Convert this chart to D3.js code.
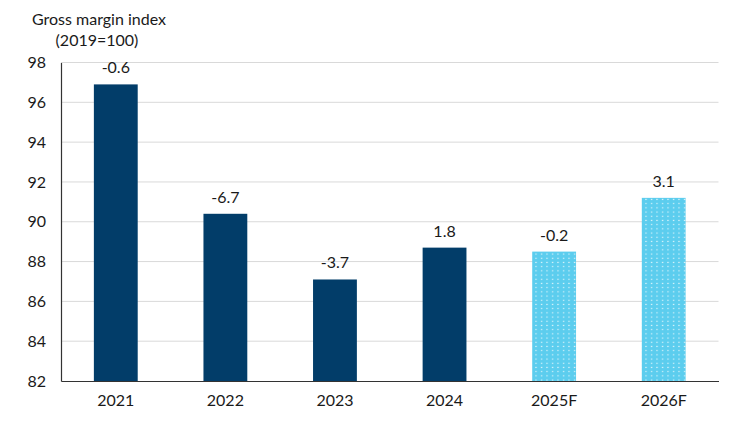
<!DOCTYPE html>
<html>
<head>
<meta charset="utf-8">
<script src="https://cdn.jsdelivr.net/npm/d3@7"></script>
<style>
  body { margin: 0; background: #fff; }
  text { font-family: Lato, "Open Sans", sans-serif; fill: #1a1a1a; }
</style>
</head>
<body>
<div id="chart"></div>
<script>
// Chart data
const years = ['2021', '2022', '2023', '2024', '2025F', '2026F'];
const indexValues = [96.9, 90.4, 87.1, 88.7, 88.5, 91.2];
const changeLabels = ['-0.6', '-6.7', '-3.7', '1.8', '-0.2', '3.1'];
const isForecast = [false, false, false, false, true, true];
const yTicks = [82, 84, 86, 88, 90, 92, 94, 96, 98];

const w = 750;
const h = 422;
const plotLeft = 61, plotRight = 718.5, plotTop = 62.5, plotBottom = 381;
const fontSize = 16;

const svg = d3.select('#chart')
  .append('svg')
  .attr('width', w)
  .attr('height', h);

// dotted fill for forecast bars
const pat = svg.append('defs')
  .append('pattern')
  .attr('id', 'dots')
  .attr('patternUnits', 'userSpaceOnUse')
  .attr('width', 5.5)
  .attr('height', 4.2);
pat.append('rect').attr('width', 5.5).attr('height', 4.2).attr('fill', '#5ccdee');
pat.append('rect').attr('x', 2).attr('y', 1.5).attr('width', 1.1).attr('height', 1.1).attr('fill', '#ffffff');

// Scales
const xScale = d3.scaleBand()
  .domain(years)
  .range([plotLeft, plotRight])
  .paddingInner(0.6)
  .paddingOuter(0.3);

const yScale = d3.scaleLinear()
  .domain([82, 98])
  .range([plotBottom, plotTop]);

// Gridlines
svg.append('g')
  .selectAll('line')
  .data(yTicks.filter(d => d > 82))
  .enter()
  .append('line')
  .attr('x1', plotLeft)
  .attr('x2', plotRight)
  .attr('y1', d => yScale(d))
  .attr('y2', d => yScale(d))
  .attr('stroke', '#d9d9d9')
  .attr('stroke-width', 1);

// Bars
svg.selectAll('.bar')
  .data(indexValues)
  .enter()
  .append('rect')
  .attr('class', 'bar')
  .attr('x', (d, i) => xScale(years[i]))
  .attr('y', d => yScale(d))
  .attr('width', xScale.bandwidth())
  .attr('height', d => yScale(82) - yScale(d))
  .attr('fill', (d, i) => isForecast[i] ? 'url(#dots)' : '#023d69');

// Value labels
svg.selectAll('.lbl')
  .data(indexValues)
  .enter()
  .append('text')
  .attr('class', 'lbl')
  .attr('x', (d, i) => xScale(years[i]) + xScale.bandwidth() / 2)
  .attr('y', d => yScale(d) - 11)
  .attr('text-anchor', 'middle')
  .attr('font-size', fontSize)
  .text((d, i) => changeLabels[i]);

// Y axis
const yAxis = d3.axisLeft(yScale).tickValues(yTicks).tickSize(0).tickPadding(15);
const gy = svg.append('g')
  .attr('transform', 'translate(' + plotLeft + ',0)')
  .call(yAxis);
gy.select('.domain').attr('stroke', '#333').attr('stroke-width', 1.2);
gy.selectAll('text').attr('font-size', fontSize).attr('font-family', 'Lato, sans-serif').attr('fill', '#1a1a1a');

// X axis
const xAxis = d3.axisBottom(xScale).tickSize(0).tickPadding(14);
const gx = svg.append('g')
  .attr('transform', 'translate(0,' + plotBottom + ')')
  .call(xAxis);
gx.select('.domain').attr('stroke', '#333').attr('stroke-width', 1.2);
gx.selectAll('text').attr('font-size', fontSize).attr('font-family', 'Lato, sans-serif').attr('fill', '#1a1a1a');

// Axis title
svg.append('text')
  .attr('x', 99)
  .attr('y', 25)
  .attr('text-anchor', 'middle')
  .attr('font-size', fontSize)
  .text('Gross margin index');
svg.append('text')
  .attr('x', 97)
  .attr('y', 46)
  .attr('text-anchor', 'middle')
  .attr('font-size', fontSize)
  .text('(2019=100)');
</script>
</body>
</html>
